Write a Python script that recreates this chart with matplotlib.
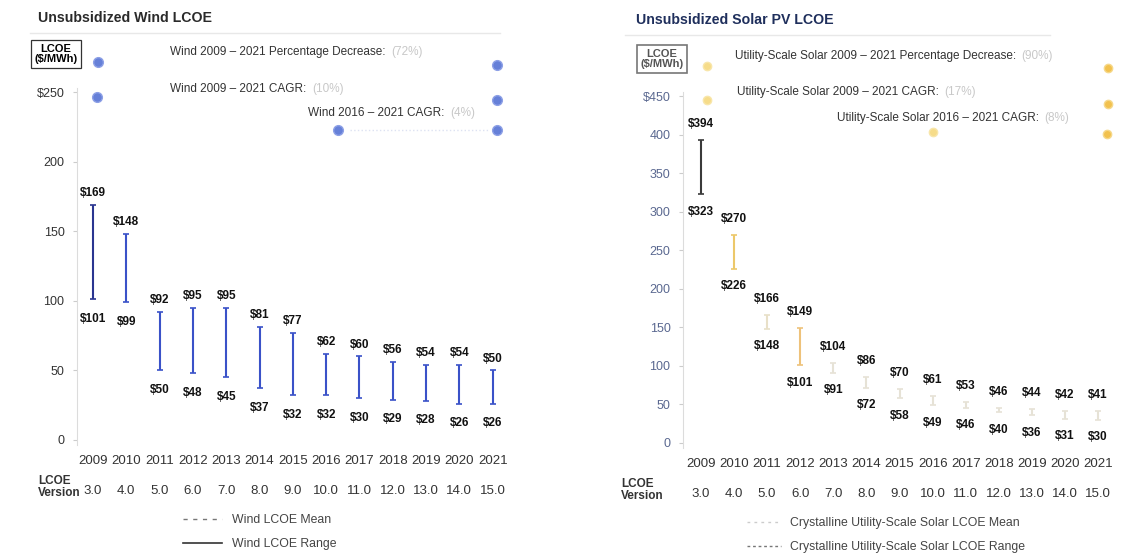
import matplotlib
matplotlib.use("Agg")
import matplotlib.pyplot as plt
from matplotlib.lines import Line2D
from matplotlib.transforms import blended_transform_factory

plt.rcParams['font.family'] = ['Liberation Sans', 'DejaVu Sans']

years = list(range(2009, 2022))
versions = ["3.0", "4.0", "5.0", "6.0", "7.0", "8.0", "9.0", "10.0", "11.0", "12.0", "13.0", "14.0", "15.0"]

wind_high = [169, 148, 92, 95, 95, 81, 77, 62, 60, 56, 54, 54, 50]
wind_low = [101, 99, 50, 48, 45, 37, 32, 32, 30, 29, 28, 26, 26]

solar_high = [394, 270, 166, 149, 104, 86, 70, 61, 53, 46, 44, 42, 41]
solar_low = [323, 226, 148, 101, 91, 72, 58, 49, 46, 40, 36, 31, 30]

wind_notes = ["Wind 2009 \u2013 2021 Percentage Decrease:",
              "Wind 2009 \u2013 2021 CAGR:",
              "Wind 2016 \u2013 2021 CAGR:"]
wind_note_vals = ["(72%)", "(10%)", "(4%)"]
solar_notes = ["Utility-Scale Solar 2009 \u2013 2021 Percentage Decrease:",
               "Utility-Scale Solar 2009 \u2013 2021 CAGR:",
               "Utility-Scale Solar 2016 \u2013 2021 CAGR:"]
solar_note_vals = ["(90%)", "(17%)", "(8%)"]

W, H = 1127, 555
fig = plt.figure(figsize=(W / 100, H / 100), dpi=100)


def fx(x):
    return x / W


def fy(y):
    return 1 - y / H


def make_axes(left, right, top, bottom, xlim, ylim):
    ax = fig.add_axes([fx(left), fy(bottom), fx(right - left), (bottom - top) / H])
    ax.set_xlim(*xlim)
    ax.set_ylim(*ylim)
    for s in ["top", "right", "bottom"]:
        ax.spines[s].set_visible(False)
    ax.spines["left"].set_color("#dcdcdc")
    ax.tick_params(axis="y", length=3, color="#cccccc", labelsize=9, pad=6)
    ax.tick_params(axis="x", length=0, labelsize=9.5, pad=7)
    ax.set_xticks(years)
    ax.set_xticklabels([str(y) for y in years], color="#333333")
    return ax


def draw_ranges(ax, lo, hi, colors, top_off, bot_off):
    for x, a, b, c in zip(years, lo, hi, colors):
        ax.errorbar([x], [(a + b) / 2], yerr=[(b - a) / 2], fmt="none", ecolor=c,
                    elinewidth=1.5, capsize=2.5, capthick=1.2)
        ax.annotate(f"${b}", (x, b), xytext=(0, top_off), textcoords="offset points",
                    ha="center", va="center", fontsize=8.5, fontweight="bold", color="#111111")
        ax.annotate(f"${a}", (x, a), xytext=(0, -bot_off), textcoords="offset points",
                    ha="center", va="center", fontsize=8.5, fontweight="bold", color="#111111")


def version_row(ax, ypix, labx):
    tr = blended_transform_factory(ax.transData, fig.transFigure)
    for x, v in zip(years, versions):
        ax.text(x, fy(ypix), v, transform=tr, ha="center", va="center",
                fontsize=9.5, color="#333333")
    fig.text(fx(labx), fy(ypix - 4), "LCOE\nVersion", ha="left", va="center",
             fontsize=8.5, fontweight="bold", color="#333333", linespacing=1.05)


def notes(ax, texts, vals, pos):
    for t, v, (x, y) in zip(texts, vals, pos):
        txt = fig.text(fx(x), fy(y), t, fontsize=8.5, color="#333333", va="center")
        ax.annotate(v, xy=(1, 0.5), xycoords=txt, xytext=(4, 0), textcoords="offset points",
                    va="center", fontsize=8.5, color="#c8c8c8", annotation_clip=False)


# ---- wind panel
axw = make_axes(77, 512, 88, 445, (2008.52, 2021.58), (-3.6, 252.9))
axw.set_yticks([0, 50, 100, 150, 200, 250])
axw.set_yticklabels(["0", "50", "100", "150", "200", "$250"], color="#333333")
wind_colors = ["#2a3590"] + ["#3a52c8"] * 12
draw_ranges(axw, wind_low, wind_high, wind_colors, 8.5, 14)
version_row(axw, 491, 38)

# ---- solar panel
axs = make_axes(683, 1122, 92, 448, (2008.46, 2021.72), (-6.5, 455.8))
axs.set_yticks([0, 50, 100, 150, 200, 250, 300, 350, 400, 450])
axs.set_yticklabels(["0", "50", "100", "150", "200", "250", "300", "350", "400", "$450"],
                    color="#5a6890")
solar_colors = ["#3a3a3a", "#ecc86a", "#e8e0c8", "#eec27a"] + ["#e6e2d6"] * 9
draw_ranges(axs, solar_low, solar_high, solar_colors, 11.5, 12.5)
version_row(axs, 494, 621)

# titles and thin rules
fig.text(fx(38), fy(18), "Unsubsidized Wind LCOE", fontsize=10.2, fontweight="bold",
         color="#2a2a2a", va="center")
fig.text(fx(636), fy(20), "Unsubsidized Solar PV LCOE", fontsize=10.2, fontweight="bold",
         color="#1f2f5c", va="center")
fig.add_artist(Line2D([fx(30), fx(500)], [fy(33), fy(33)], color="#e8e8e8", lw=1))
fig.add_artist(Line2D([fx(625), fx(1050)], [fy(35), fy(35)], color="#e8e8e8", lw=1))

# unit boxes
fig.text(fx(56), fy(54), "LCOE\n($/MWh)", ha="center", va="center", fontsize=8,
         fontweight="bold", linespacing=1.1,
         bbox=dict(boxstyle="square,pad=0.3", fc="white", ec="#333333", lw=0.9))
fig.text(fx(662), fy(59), "LCOE\n($/MWh)", ha="center", va="center", fontsize=8,
         fontweight="bold", color="#555555", linespacing=1.1,
         bbox=dict(boxstyle="square,pad=0.3", fc="white", ec="#777777", lw=1.2))

# notes with markers
notes(axw, wind_notes, wind_note_vals, [(170, 52), (170, 89), (308, 113)])
wind_dots_l = [(98, 62), (97, 97), (338, 130)]
wind_dots_r = [(497, 65), (497, 100), (497, 130)]
for (x1, y1), (x2, y2) in zip(wind_dots_l, wind_dots_r):
    fig.add_artist(Line2D([fx(x1)], [fy(y1)], marker="o", ms=7, color="#6680d8", mec="#8da0e6"))
    fig.add_artist(Line2D([fx(x2)], [fy(y2)], marker="o", ms=7, color="#6680d8", mec="#8da0e6"))
fig.add_artist(Line2D([fx(350), fx(488)], [fy(130), fy(130)], color="#dde2f2", lw=1, ls=":"))

notes(axs, solar_notes, solar_note_vals, [(735, 56), (737, 92), (837, 118)])
solar_dots_l = [(707, 66), (707, 100), (933, 132)]
solar_dots_r = [(1108, 68), (1108, 104), (1107, 134)]
for (x1, y1), (x2, y2) in zip(solar_dots_l, solar_dots_r):
    fig.add_artist(Line2D([fx(x1)], [fy(y1)], marker="o", ms=6, color="#f6dc8a", mec="#f8e6aa"))
    fig.add_artist(Line2D([fx(x2)], [fy(y2)], marker="o", ms=6, color="#f2c14e", mec="#f6d88a"))

# legends
wind_handles = [Line2D([], [], color="#777777", lw=1, ls=(0, (3, 4))),
                Line2D([], [], color="#333333", lw=1.2)]
fig.legend(wind_handles, ["Wind LCOE Mean", "Wind LCOE Range"], loc="center",
           bbox_to_anchor=(fx(260), fy(532)), frameon=False, fontsize=8.8,
           handlelength=3.2, labelspacing=1.0, labelcolor="#444444")
solar_handles = [Line2D([], [], color="#cccccc", lw=1, ls=(0, (2, 3))),
                 Line2D([], [], color="#777777", lw=1, ls=(0, (2, 2)))]
fig.legend(solar_handles, ["Crystalline Utility-Scale Solar LCOE Mean",
                           "Crystalline Utility-Scale Solar LCOE Range"], loc="center",
           bbox_to_anchor=(fx(886), fy(535)), frameon=False, fontsize=8.8,
           handlelength=2.8, labelspacing=1.0, labelcolor="#444444")

fig.savefig("out.png", dpi=100)
